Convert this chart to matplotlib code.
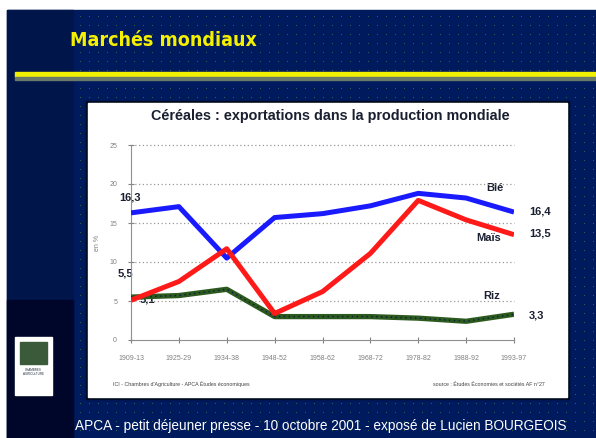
import matplotlib
matplotlib.use("Agg")
import matplotlib.pyplot as plt
import numpy as np
from matplotlib.patches import Rectangle

periods = ["1909-13", "1925-29", "1934-38", "1948-52", "1958-62",
           "1968-72", "1978-82", "1988-92", "1993-97"]
ble = [16.3, 17.1, 10.5, 15.7, 16.2, 17.2, 18.8, 18.2, 16.4]
mais = [5.1, 7.5, 11.7, 3.4, 6.2, 11.1, 17.9, 15.4, 13.5]
riz = [5.5, 5.7, 6.5, 3.0, 3.0, 3.0, 2.8, 2.4, 3.3]
yticks = [0, 5, 10, 15, 20, 25]

plt.rcParams["font.family"] = ["Liberation Sans", "DejaVu Sans"]

W, H = 596, 438
fig = plt.figure(figsize=(W / 100, H / 100), dpi=100)
fig.patch.set_facecolor("white")

bg = fig.add_axes([0, 0, 1, 1])
bg.set_xlim(0, W)
bg.set_ylim(H, 0)
bg.axis("off")

navy = "#001a5e"
bg.add_patch(Rectangle((7, 10), W - 7, H - 10, color=navy, zorder=0))
bg.add_patch(Rectangle((7, 10), 66, H - 10, color="#00154a", zorder=0.5))
bg.add_patch(Rectangle((7, 300), 66, H - 300, color="#00062a", zorder=0.6))
# dotted texture
xs, ys = np.meshgrid(np.arange(80, W, 9), np.arange(16, H, 9))
bg.scatter(xs.ravel(), ys.ravel(), s=0.4, color="#2f7a3a", zorder=1, linewidths=0)

# title + rule
bg.text(70, 40, "Marchés mondiaux", color="#f5f000", fontsize=14, fontweight="bold",
        family="DejaVu Sans", fontstretch="condensed", va="center", ha="left", zorder=3)
bg.add_patch(Rectangle((15, 72), W - 15, 5, color="#f0f000", zorder=2))
bg.add_patch(Rectangle((15, 77), W - 15, 3, color="#6a7a6a", zorder=2))

# white panel with shadow
bg.add_patch(Rectangle((86, 101), 483, 298, color="#000a20", zorder=2))
bg.add_patch(Rectangle((88, 103), 479, 294, color="white", zorder=3))

# logo
bg.add_patch(Rectangle((15, 337), 37, 58, color="white", zorder=3))
bg.add_patch(Rectangle((20, 342), 27, 22, color="#3a5a3a", zorder=4))
bg.text(33.5, 372, "CHAMBRES\nAGRICULTURE", fontsize=2.2, ha="center", va="center",
        color="#203040", zorder=5)

bg.text(330, 116, "Céréales : exportations dans la production mondiale", fontsize=10.4,
        fontweight="bold", color="#1a2030", ha="center", va="center", zorder=5)
bg.text(113, 384, "ICI - Chambres d'Agriculture - APCA Études économiques", fontsize=3.8,
        color="#404040", ha="left", va="center", zorder=5)
bg.text(545, 384, "source : Études Économies et sociétés AF n°27", fontsize=3.8,
        color="#404040", ha="right", va="center", zorder=5)
bg.text(75, 426, "APCA - petit déjeuner presse - 10 octobre 2001 - exposé de Lucien BOURGEOIS",
        fontsize=9.8, color="white", ha="left", va="center", zorder=5)

# chart axes
l, r, t, b = 131, 514, 145, 340
ax = fig.add_axes([l / W, 1 - b / H, (r - l) / W, (b - t) / H])
ax.patch.set_alpha(0)
x = np.arange(len(periods))
ax.plot(x, ble, color="#1a1aff", lw=3.6, solid_capstyle="butt", zorder=4)
ax.plot(x, mais, color="#ff1a1a", lw=3.6, solid_capstyle="butt", zorder=5)
ax.plot(x, riz, color="#2c5a1e", lw=3.8, solid_capstyle="butt", zorder=3)
ax.plot(x, riz, color="#0a1a40", lw=1.0, ls=(0, (1, 2.5)), zorder=3.5)
ax.set_xlim(0, len(periods) - 1)
ax.set_ylim(0, 25)
ax.set_xticks(x)
ax.set_xticklabels(periods, fontsize=5, color="#808080")
ax.set_yticks(yticks)
ax.set_yticklabels([str(v) for v in yticks], fontsize=5, color="#808080")
for s in ["top", "right"]:
    ax.spines[s].set_visible(False)
for s in ["left", "bottom"]:
    ax.spines[s].set_color("#909090")
    ax.spines[s].set_linewidth(0.8)
ax.tick_params(axis="x", direction="inout", length=5, color="#808080", pad=8)
ax.tick_params(axis="y", direction="inout", length=4, color="#808080", pad=8)
for v in yticks[1:]:
    ax.axhline(v, color="#9a9a9a", lw=0.9, ls=(0, (1, 2)), zorder=1, clip_on=False)
ax.set_ylabel("en %", fontsize=5, color="#808080", labelpad=6)

tk = dict(fontsize=8, fontweight="bold", color="#1a2030", zorder=6)
bg.text(119, 197, "16,3", ha="left", va="center", **tk)
bg.text(118, 273, "5,5", ha="left", va="center", **tk)
bg.text(140, 300, "5,1", ha="left", va="center", **tk)
bg.text(486, 188, "Blé", ha="left", va="center", **tk)
bg.text(529, 211, "16,4", ha="left", va="center", **tk)
bg.text(476, 238, "Maïs", ha="left", va="center", **tk)
bg.text(529, 234, "13,5", ha="left", va="center", **tk)
bg.text(483, 296, "Riz", ha="left", va="center", **tk)
bg.text(529, 315, "3,3", ha="left", va="center", **tk)

fig.savefig("out.png", dpi=100, facecolor=fig.get_facecolor())
